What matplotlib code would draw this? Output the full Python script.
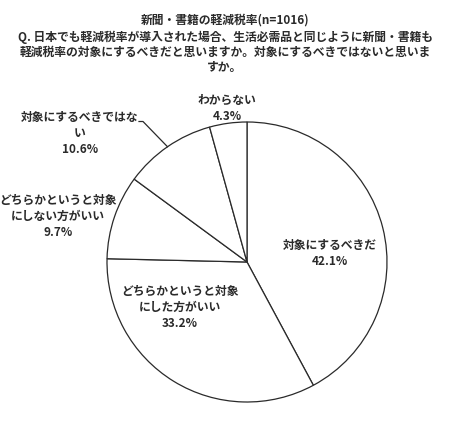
import matplotlib
matplotlib.use("Agg")
import matplotlib.pyplot as plt
import numpy as np

plt.rcParams['font.family'] = ['Noto Sans CJK JP', 'DejaVu Sans']

title_lines = [
    "新聞・書籍の軽減税率(n=1016)",
    "Q. 日本でも軽減税率が導入された場合、生活必需品と同じように新聞・書籍も",
    "軽減税率の対象にするべきだと思いますか。対象にするべきではないと思いま",
    "すか。",
]
categories = [
    "対象にするべきだ",
    "どちらかというと対象\nにした方がいい",
    "どちらかというと対象\nにしない方がいい",
    "対象にするべきではな\nい",
    "わからない",
]
values = [42.1, 33.2, 9.7, 10.6, 4.3]

W, H = 450, 426
fig = plt.figure(figsize=(W / 100, H / 100), dpi=100)
fig.patch.set_facecolor('white')

# pie geometry in pixels
cx, cy, r = 247, 262, 140
ax = fig.add_axes([(cx - r) / W, (H - (cy + r)) / H, 2 * r / W, 2 * r / H])
wedges, _ = ax.pie(values, startangle=90, counterclock=False,
                   colors=['white'] * len(values),
                   wedgeprops=dict(edgecolor='#2a2a2a', linewidth=0.9))
ax.set_xlim(-1, 1)
ax.set_ylim(-1, 1)
ax.set_axis_off()

def px2d(px, py):
    return ((px - cx) / r, (cy - py) / r)

fs = 8.5
tc = '#2a2a2a'
fw = 'bold'

# label positions (pixel centres of the first line)
label_pos = [(330, 245.5), (180, 291), (58, 200), (80, 117), (227, 100.5)]
line_step = 16.3
for cat, val, (lx, ly) in zip(categories, values, label_pos):
    lines = cat.split("\n") + [f"{val}%"]
    for i, ln in enumerate(lines):
        x, y = px2d(lx, ly + i * line_step)
        ax.text(x, y, ln, ha='center', va='center', fontsize=fs, color=tc,
                fontweight=fw, clip_on=False)

# leader line for 10.6%
total = sum(values)
cum = np.cumsum([0] + values) / total
mid = (cum[3] + cum[4]) / 2
ang = np.deg2rad(90 - mid * 360)
ex, ey = np.cos(ang), np.sin(ang)
p1 = px2d(139, 121.5)
p2 = px2d(143, 121.5)
ax.plot([p1[0], p2[0], ex], [p1[1], p2[1], ey], color='#2a2a2a',
        linewidth=0.9, clip_on=False)

# title
title_y = [20.5, 37, 52.5, 68]
for ln, ty in zip(title_lines, title_y):
    fig.text(225 / W, 1 - ty / H, ln, ha='center', va='center', fontsize=fs,
             color=tc, fontweight=fw)

fig.savefig("out.png", dpi=100, facecolor='white')
